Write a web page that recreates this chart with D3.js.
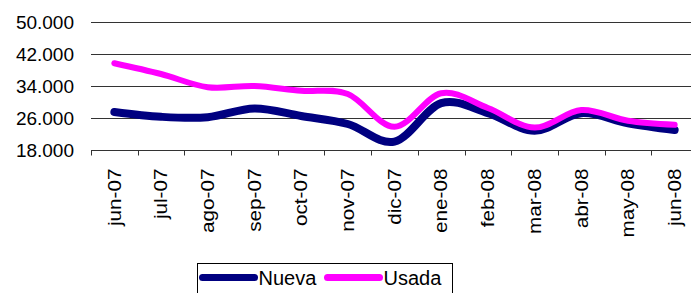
<!DOCTYPE html>
<html>
<head>
<meta charset="utf-8">
<script src="https://cdn.jsdelivr.net/npm/d3@7"></script>
<style>
  body { margin: 0; background: #fff; }
  text { font-family: "Liberation Sans", Arial, sans-serif; fill: #000; }
</style>
</head>
<body>
<div id="chart"></div>
<script>
const months = ['jun-07', 'jul-07', 'ago-07', 'sep-07', 'oct-07', 'nov-07', 'dic-07',
  'ene-08', 'feb-08', 'mar-08', 'abr-08', 'may-08', 'jun-08'];
const nueva = [27500, 26300, 26200, 28400, 26500, 24500, 20100, 29700, 27200, 22800, 27200, 24700, 23000];
const usada = [39700, 37000, 33700, 34000, 32800, 32000, 23800, 32200, 28500, 23600, 28000, 25300, 24300];
const yTicks = [18000, 26000, 34000, 42000, 50000];
const seriesNames = ['Nueva', 'Usada'];

const W = 691, H = 293;
const colors = { Nueva: '#000080', Usada: '#ff00ff' };
const widths = { Nueva: 8, Usada: 6 };

let svg = d3.select('#chart').append('svg')
  .attr('width', W)
  .attr('height', H);

// scales - the plot runs a bit past the right edge, like the original
let x = d3.scaleBand().domain(months).range([91, 698]);
let y = d3.scaleLinear().domain([18000, 50000]).range([150, 22]);

// spanish style thousands: 50.000
let fmt = v => d3.format(',.0f')(v).replace(/,/g, '.');

// gridlines
svg.append('g')
  .selectAll('line')
  .data(yTicks.slice(1))
  .enter()
  .append('line')
  .attr('x1', 91)
  .attr('x2', W)
  .attr('y1', d => y(d) + 0.5)
  .attr('y2', d => y(d) + 0.5)
  .style('stroke', '#333')
  .style('stroke-width', 1);

// y labels
svg.append('g')
  .selectAll('text')
  .data(yTicks)
  .enter()
  .append('text')
  .attr('x', 74)
  .attr('y', d => y(d))
  .attr('dy', '0.36em')
  .attr('text-anchor', 'end')
  .style('font-size', '19px')
  .text(fmt);

// x axis
let xAxis = svg.append('g')
  .attr('transform', `translate(0,${y(18000) + 0.5})`);
xAxis.append('line')
  .attr('x1', 91).attr('x2', W)
  .style('stroke', '#333');
xAxis.selectAll('.tick')
  .data(months)
  .enter()
  .append('line')
  .attr('x1', d => Math.round(x(d)) + 0.5)
  .attr('x2', d => Math.round(x(d)) + 0.5)
  .attr('y1', 0)
  .attr('y2', 5)
  .style('stroke', '#333');
// month labels are a little stretched along their length in the original
xAxis.selectAll('text')
  .data(months)
  .enter()
  .append('text')
  .attr('transform', d => `translate(${x(d) + x.bandwidth() / 2},18) rotate(-90) scale(1.15,1)`)
  .attr('text-anchor', 'end')
  .attr('dy', '0.35em')
  .style('font-size', '18px')
  .text(d => d);

// lines
let line = d3.line()
  .x((d, i) => x(months[i]) + x.bandwidth() / 2)
  .y(d => y(d))
  .curve(d3.curveCardinal.tension(0));

[['Nueva', nueva], ['Usada', usada]].forEach(([name, vals]) => {
  svg.append('path')
    .attr('d', line(vals))
    .style('fill', 'none')
    .style('stroke', colors[name])
    .style('stroke-width', widths[name])
    .style('stroke-linecap', 'round')
    .style('stroke-linejoin', 'round');
});

// legend
let legend = svg.append('g').attr('transform', 'translate(197.5,263.5)');
legend.append('rect')
  .attr('width', 255)
  .attr('height', 40)
  .style('fill', '#fff')
  .style('stroke', '#000');
let item = legend.selectAll('.item')
  .data(seriesNames)
  .enter()
  .append('g')
  .attr('transform', (d, i) => `translate(${5 + i * 125},14)`);
item.append('line')
  .attr('x1', 0).attr('x2', 52)
  .style('stroke', d => colors[d])
  .style('stroke-width', 7)
  .style('stroke-linecap', 'round');
item.append('text')
  .attr('x', 56)
  .attr('dy', '0.36em')
  .style('font-size', '20px')
  .text(d => d);
</script>
</body>
</html>
